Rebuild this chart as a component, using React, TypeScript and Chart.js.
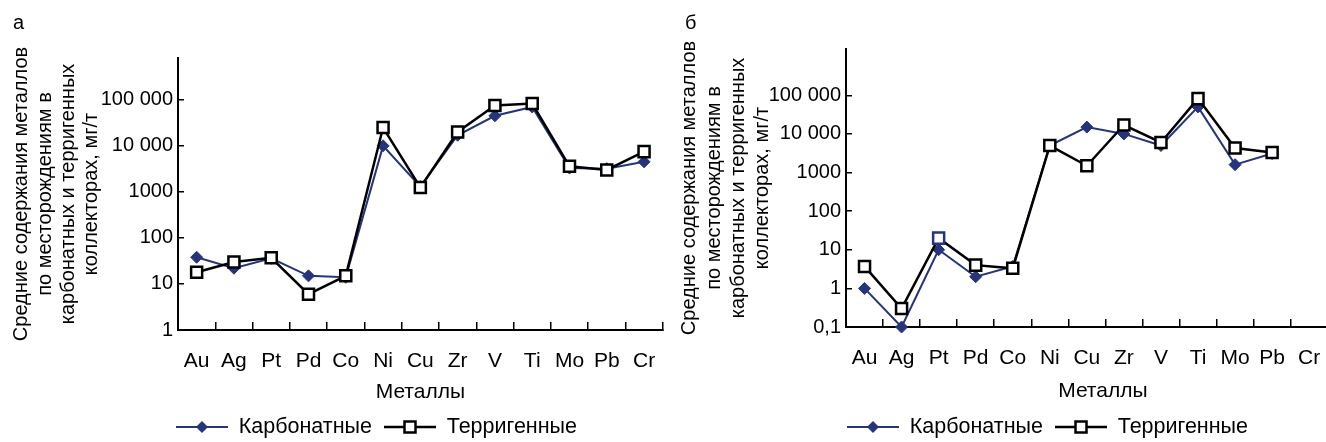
import React, { useEffect, useRef } from 'react';
import { Chart, registerables } from 'chart.js';

Chart.register(...registerables);

// ---------- data ----------
const categories = ['Au', 'Ag', 'Pt', 'Pd', 'Co', 'Ni', 'Cu', 'Zr', 'V', 'Ti', 'Mo', 'Pb', 'Cr'];
const carbonateA = [38, 22, 36, 15, 14, 10000, 1300, 17000, 45000, 70000, 3300, 3200, 4500];
const terrigenousA = [18, 30, 37, 6, 15, 25000, 1250, 20000, 75000, 83000, 3600, 3000, 7500];
const carbonateB = [1, 0.1, 10, 2, 3.7, 5000, 15000, 10000, 5000, 50000, 1600, 3100, null];
const terrigenousB = [3.7, 0.3, 20, 4, 3.3, 5000, 1500, 17000, 6000, 82000, 4300, 3300, null];
const yTicksA = [1, 10, 100, 1000, 10000, 100000];
const yTickLabelsA = ['1', '10', '100', '1000', '10 000', '100 000'];
const yTicksB = [0.1, 1, 10, 100, 1000, 10000, 100000];
const yTickLabelsB = ['0,1', '1', '10', '100', '1000', '10 000', '100 000'];
const yTitle = ['Средние содержания металлов', 'по месторождениям в', 'карбонатных и терригенных', 'коллекторах, мг/т'];
const xTitle = 'Металлы';
const seriesNames = ['Карбонатные', 'Терригенные'];
const panelLabels = ['а', 'б'];

const NAVY = '#26347C';
const FONT = 'Liberation Sans, Arial, sans-serif';
const LEGEND_FONT = 21.5;
const LEGEND_PAD = 12;

function legendImage(kind: 'diamond' | 'square', w: number) {
  const c = document.createElement('canvas');
  c.width = w;
  c.height = 16;
  const ctx = c.getContext('2d')!;
  const cy = 8;
  ctx.beginPath();
  ctx.moveTo(0, cy);
  ctx.lineTo(w, cy);
  ctx.lineWidth = kind === 'diamond' ? 2 : 2.5;
  ctx.strokeStyle = kind === 'diamond' ? NAVY : '#000';
  ctx.stroke();
  const cx = w / 2;
  if (kind === 'diamond') {
    const r = 6;
    ctx.beginPath();
    ctx.moveTo(cx, cy - r);
    ctx.lineTo(cx + r, cy);
    ctx.lineTo(cx, cy + r);
    ctx.lineTo(cx - r, cy);
    ctx.closePath();
    ctx.fillStyle = NAVY;
    ctx.fill();
  } else {
    const s = 5.5;
    ctx.fillStyle = '#fff';
    ctx.fillRect(cx - s, cy - s, 2 * s, 2 * s);
    ctx.lineWidth = 2.5;
    ctx.strokeStyle = '#000';
    ctx.strokeRect(cx - s, cy - s, 2 * s, 2 * s);
  }
  return c;
}

const layoutTweak = {
  id: 'layoutTweak',
  afterLayout(chart: any, _args: any, opts: any) {
    const lg = chart.legend;
    if (lg && opts.legendX != null) {
      const pad = lg.options.labels.padding;
      const cur = (lg.left + pad + lg.right - lg.lineWidths[0]) / 2;
      const dx = opts.legendX - cur;
      lg.left += dx;
      lg.right += dx;
      lg.top += opts.legendDy || 0;
      lg.bottom += opts.legendDy || 0;
    }
    if (opts.xTitleShift) {
      chart.scales.x.right += opts.xTitleShift * 2;
    }
  },
};

type Panel = {
  label: string;
  carb: (number | null)[];
  terr: (number | null)[];
  ticks: number[];
  tickLabels: string[];
  min: number;
  max: number;
  padLeft: number;
  titleBottom: number;
  yWidth: number;
  yTitlePadTop: number;
  yTitleLH: number;
  xHeight: number;
  xTitlePadBottom: number;
  legendX: number;
  legendW: number;
  xTitleShift: number;
  ptBorder: string[];
};

function makeConfig(p: Panel, imgs: HTMLCanvasElement[]): any {
  const tickFont = { family: FONT, size: 20 };
  const catFont = { family: FONT, size: 21 };
  return {
    type: 'line',
    data: {
      labels: categories,
      datasets: [
        {
          label: seriesNames[0],
          data: p.carb,
          borderColor: NAVY,
          borderWidth: 2,
          pointStyle: 'rectRot',
          pointRadius: 6,
          pointBackgroundColor: NAVY,
          pointBorderColor: NAVY,
          pointBorderWidth: 1,
          tension: 0,
          clip: false,
          order: 1,
        },
        {
          label: seriesNames[1],
          data: p.terr,
          borderColor: '#000',
          borderWidth: 2.5,
          pointStyle: 'rect',
          pointRadius: 7.8,
          pointBackgroundColor: '#fff',
          pointBorderColor: p.ptBorder,
          pointBorderWidth: 2.5,
          tension: 0,
          clip: false,
          order: 0,
        },
      ],
    },
    options: {
      responsive: false,
      animation: false,
      devicePixelRatio: 1,
      layout: { padding: { left: p.padLeft, right: 0, top: 0, bottom: 0 } },
      plugins: {
        tooltip: { enabled: false },
        title: {
          display: true,
          text: p.label,
          align: 'start',
          color: '#000',
          font: { family: FONT, size: 20, weight: 'normal', lineHeight: 1.2 },
          padding: { top: 11, bottom: p.titleBottom },
        },
        legend: {
          display: true,
          position: 'bottom',
          labels: {
            usePointStyle: true,
            pointStyleWidth: p.legendW,
            padding: LEGEND_PAD,
            color: '#000',
            font: { family: FONT, size: LEGEND_FONT },
            generateLabels: (chart: any) =>
              chart.data.datasets.map((ds: any, i: number) => ({
                text: ds.label,
                pointStyle: imgs[i],
                fillStyle: 'transparent',
                strokeStyle: 'transparent',
                lineWidth: 0,
                hidden: false,
                datasetIndex: i,
                fontColor: '#000',
              })),
          },
        },
        layoutTweak: { legendX: p.legendX, legendDy: 5.75, xTitleShift: p.xTitleShift },
      },
      scales: {
        x: {
          type: 'category',
          offset: true,
          afterFit: (s: any) => {
            s.height = p.xHeight;
            s.paddingLeft = 0;
            s.paddingRight = 0;
          },
          ticks: { font: catFont, color: '#000', padding: 26.4, autoSkip: false, maxRotation: 0 },
          grid: { offset: true, drawOnChartArea: false, drawTicks: true, tickLength: -8, color: '#000', lineWidth: 1.5 },
          border: { display: true, color: '#000', width: 2 },
          title: { display: true, text: xTitle, color: '#000', font: catFont, padding: { top: 0, bottom: p.xTitlePadBottom } },
        },
        y: {
          type: 'logarithmic',
          min: p.min,
          max: p.max,
          afterBuildTicks: (s: any) => {
            s.ticks = p.ticks.map((v) => ({ value: v }));
          },
          afterFit: (s: any) => {
            s.width = p.yWidth;
          },
          ticks: {
            font: tickFont,
            color: '#000',
            padding: 11,
            autoSkip: false,
            callback: (v: any) => {
              const i = p.ticks.indexOf(Number(v));
              return i >= 0 ? p.tickLabels[i] : '';
            },
          },
          grid: { drawOnChartArea: false, drawTicks: true, tickLength: -6, color: '#000', lineWidth: 1.5 },
          border: { display: true, color: '#000', width: 2 },
          title: {
            display: true,
            text: yTitle,
            color: '#000',
            font: { family: FONT, size: 20, lineHeight: p.yTitleLH },
            padding: { top: p.yTitlePadTop, bottom: 0 },
          },
        },
      },
    },
    plugins: [layoutTweak],
  };
}

const panelA: Panel = {
  label: panelLabels[0],
  carb: carbonateA,
  terr: terrigenousA,
  ticks: yTicksA,
  tickLabels: yTickLabelsA,
  min: 1,
  max: 810000,
  padLeft: 13,
  titleBottom: 23,
  yWidth: 165,
  yTitlePadTop: -3,
  yTitleLH: 1.17,
  xHeight: 68.5,
  xTitlePadBottom: -6,
  legendX: 176,
  legendW: 52,
  xTitleShift: 0,
  ptBorder: categories.map(() => '#000'),
};

const panelB: Panel = {
  label: panelLabels[1],
  carb: carbonateB,
  terr: terrigenousB,
  ticks: yTicksB,
  tickLabels: yTickLabelsB,
  min: 0.1,
  max: 1580000,
  padLeft: 22,
  titleBottom: 14,
  yWidth: 161,
  yTitlePadTop: -7.5,
  yTitleLH: 1.22,
  xHeight: 71.5,
  xTitlePadBottom: -5,
  legendX: 184,
  legendW: 52,
  xTitleShift: 16,
  ptBorder: categories.map((c) => (c === 'Pt' ? NAVY : '#000')),
};

function ChartPanel({ panel, left, width }: { panel: Panel; left: number; width: number }) {
  const ref = useRef<HTMLCanvasElement | null>(null);
  useEffect(() => {
    if (!ref.current) return;
    const imgs = [legendImage('diamond', panel.legendW), legendImage('square', panel.legendW)];
    const chart = new Chart(ref.current, makeConfig(panel, imgs));
    return () => chart.destroy();
  }, [panel]);
  return (
    <div style={{ position: 'absolute', left, top: 0, width, height: 442 }}>
      <canvas ref={ref} width={width} height={442} style={{ display: 'block' }} />
    </div>
  );
}

export default function App() {
  return (
    <div
      style={{
        position: 'fixed',
        left: 0,
        top: 0,
        width: 1326,
        height: 442,
        overflow: 'hidden',
        background: '#fff',
      }}
    >
      <ChartPanel panel={panelA} left={0} width={673} />
      <ChartPanel panel={panelB} left={663} width={675} />
    </div>
  );
}
